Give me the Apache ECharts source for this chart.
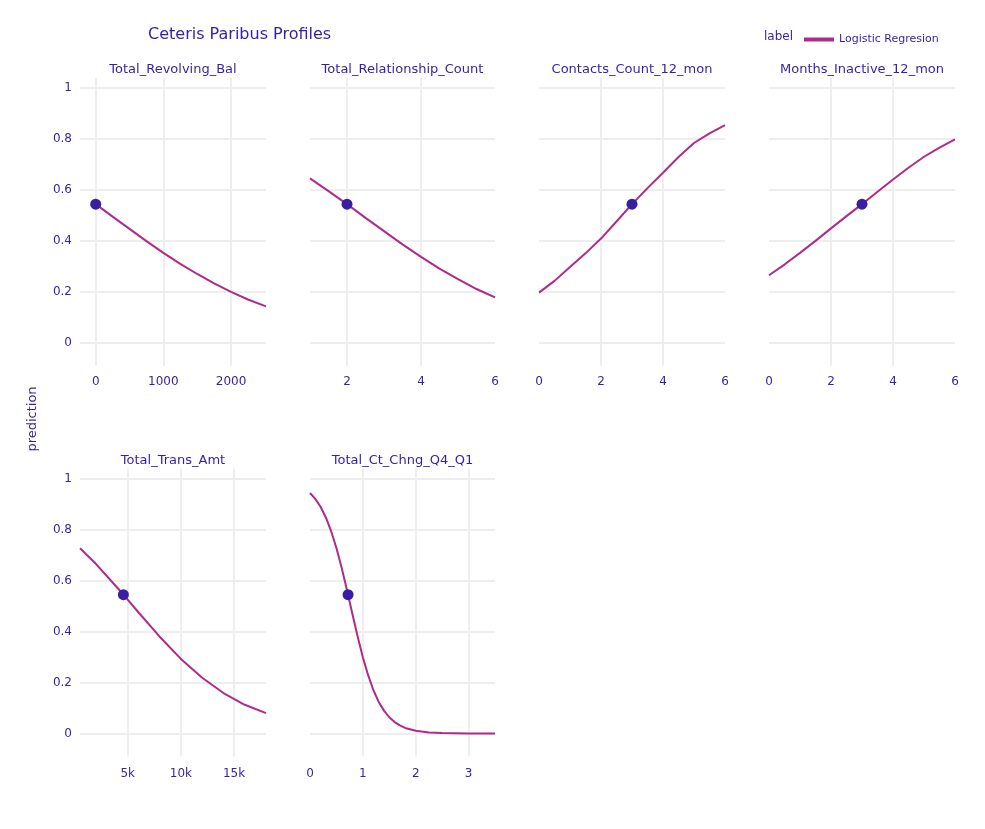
<!DOCTYPE html>
<html>
<head>
<meta charset="utf-8">
<script src="https://cdn.jsdelivr.net/npm/echarts@6/dist/echarts.min.js"></script>
<style>
html,body{margin:0;padding:0;background:#fff;}
#chart{width:985px;height:829px;}
</style>
</head>
<body>
<div id="chart"></div>
<script>
// ---- data ----
const panelTitles = ['Total_Revolving_Bal', 'Total_Relationship_Count', 'Contacts_Count_12_mon',
  'Months_Inactive_12_mon', 'Total_Trans_Amt', 'Total_Ct_Chng_Q4_Q1'];

const revolvingBalX = [0, 250, 500, 750, 1000, 1250, 1500, 1750, 2000, 2250, 2517];
const revolvingBalY = [0.545, 0.496, 0.448, 0.400, 0.354, 0.311, 0.271, 0.234, 0.201, 0.171, 0.144];

const relationshipX = [1, 1.5, 2, 2.5, 3, 3.5, 4, 4.5, 5, 5.5, 6];
const relationshipY = [0.646, 0.596, 0.545, 0.491, 0.439, 0.387, 0.338, 0.292, 0.251, 0.212, 0.179];

const contactsX = [0, 0.5, 1, 1.5, 2, 2.5, 3, 3.5, 4, 4.5, 5, 5.5, 6];
const contactsY = [0.198, 0.244, 0.298, 0.352, 0.410, 0.477, 0.545, 0.608, 0.668, 0.730, 0.785, 0.823, 0.855];

const inactiveX = [0, 0.5, 1, 1.5, 2, 2.5, 3, 3.5, 4, 4.5, 5, 5.5, 6];
const inactiveY = [0.266, 0.308, 0.354, 0.401, 0.450, 0.498, 0.545, 0.594, 0.642, 0.688, 0.731, 0.767, 0.799];

const transAmtX = [510, 2000, 4000, 4590, 6000, 8000, 10000, 12000, 14000, 16000, 18000];
const transAmtY = [0.727, 0.666, 0.573, 0.545, 0.476, 0.380, 0.293, 0.219, 0.159, 0.113, 0.080];

const ctChngX = [0, 0.1, 0.2, 0.3, 0.4, 0.5, 0.6, 0.72, 0.8, 0.9, 1.0, 1.1, 1.2, 1.3, 1.4, 1.5, 1.6, 1.7, 1.8, 2.0, 2.25, 2.5, 3.0, 3.5];
const ctChngY = [0.944, 0.921, 0.890, 0.848, 0.794, 0.728, 0.650, 0.545, 0.471, 0.382, 0.299, 0.229, 0.170, 0.124, 0.090, 0.064, 0.045, 0.032, 0.022, 0.011, 0.004, 0.002, 0.0003, 0.00004];

// observed point (same observation in every panel)
const obsX = [0, 2, 3, 3, 4590, 0.72];
const obsY = [0.545, 0.545, 0.545, 0.545, 0.545, 0.545];

// tick labels
const xTicks = [[0, 1000, 2000], [2, 4, 6], [0, 2, 4, 6], [0, 2, 4, 6], [5000, 10000, 15000], [0, 1, 2, 3]];
const xMins = [-232, 1, 0, 0, 510, 0];
const xMaxs = [2517, 6, 6, 6, 18000, 3.5];
const yTicks = [0, 0.2, 0.4, 0.6, 0.8, 1];

const seriesName = 'Logistic Regresion';
const legendTitle = 'label';

// ---- layout ----
const FONT = 'DejaVu Sans';
const TXT = '#371ea3';
const LINE = '#ae2c87';
const GRIDC = '#eeeeee';
const colLeft = [80, 310, 539, 769];
const colWidth = [186, 185, 186, 186];
const rowTop = [78, 468.5];
const rowHeight = 288;

const xs = [revolvingBalX, relationshipX, contactsX, inactiveX, transAmtX, ctChngX];
const ys = [revolvingBalY, relationshipY, contactsY, inactiveY, transAmtY, ctChngY];

const grids = [], xAxes = [], yAxes = [], series = [], titles = [];
titles.push({
  text: 'Ceteris Paribus Profiles', left: 148, top: 27, padding: 0,
  textStyle: {fontFamily: FONT, fontSize: 16, fontWeight: 'normal', color: TXT}
});
for (let i = 0; i < 6; i++) {
  const r = Math.floor(i / 4), c = i % 4;
  const ticks = xTicks[i];
  grids.push({left: colLeft[c], top: rowTop[r], width: colWidth[c], height: rowHeight, containLabel: false});
  titles.push({
    text: panelTitles[i], left: colLeft[c] + colWidth[c] / 2, top: rowTop[r] - (r === 0 ? 15 : 14), textAlign: 'center', padding: 0,
    textStyle: {fontFamily: FONT, fontSize: 13, fontWeight: 'normal', color: TXT}
  });
  xAxes.push({
    type: 'value', gridIndex: i, min: xMins[i], max: xMaxs[i],
    axisLine: {show: false},
    axisTick: {show: false, customValues: ticks},
    axisLabel: {
      customValues: ticks, margin: r === 0 ? 10 : 11, color: TXT, fontFamily: FONT, fontSize: 12,
      formatter: i === 4 ? (v => (v / 1000) + 'k') : (v => String(v))
    },
    splitLine: {
      show: true, lineStyle: {color: GRIDC, width: 2},
      showMinLine: ticks[0] !== xMins[i],
      showMaxLine: ticks[ticks.length - 1] !== xMaxs[i]
    }
  });
  yAxes.push({
    type: 'value', gridIndex: i, min: -0.09, max: 1.04,
    axisLine: {show: false},
    axisTick: {show: false, customValues: yTicks},
    axisLabel: {show: c === 0, customValues: yTicks, margin: 8, color: TXT, fontFamily: FONT, fontSize: 12},
    splitLine: {show: true, lineStyle: {color: GRIDC, width: 2}}
  });
  series.push({
    name: seriesName, type: 'line', xAxisIndex: i, yAxisIndex: i,
    data: xs[i].map((x, k) => [x, ys[i][k]]),
    showSymbol: false, symbol: 'none', smooth: false,
    lineStyle: {color: LINE, width: 2}, itemStyle: {color: LINE}, z: 2, animation: false
  });
  series.push({
    name: 'observation', type: 'scatter', xAxisIndex: i, yAxisIndex: i,
    data: [[obsX[i], obsY[i]]], symbolSize: 11,
    itemStyle: {color: TXT, opacity: 1}, z: 3, animation: false
  });
}

const chart = echarts.init(document.getElementById('chart'), null, {renderer: 'canvas'});
chart.setOption({
  backgroundColor: '#ffffff',
  animation: false,
  title: titles,
  grid: grids,
  xAxis: xAxes,
  yAxis: yAxes,
  series: series,
  legend: {
    data: [seriesName], left: 804, top: 34, padding: 0,
    icon: 'rect', itemWidth: 30, itemHeight: 4, itemGap: 10,
    textStyle: {fontFamily: FONT, fontSize: 11, color: TXT},
    itemStyle: {color: LINE}
  },
  graphic: [
    {type: 'text', x: 764, y: 37, style: {text: legendTitle, fill: TXT, font: '12px "DejaVu Sans"', textAlign: 'left', textVerticalAlign: 'middle'}},
    {type: 'text', x: 33, y: 419, rotation: Math.PI / 2, style: {text: 'prediction', fill: TXT, font: '13px "DejaVu Sans"', textAlign: 'center', textVerticalAlign: 'middle'}}
  ]
});
</script>
</body>
</html>
